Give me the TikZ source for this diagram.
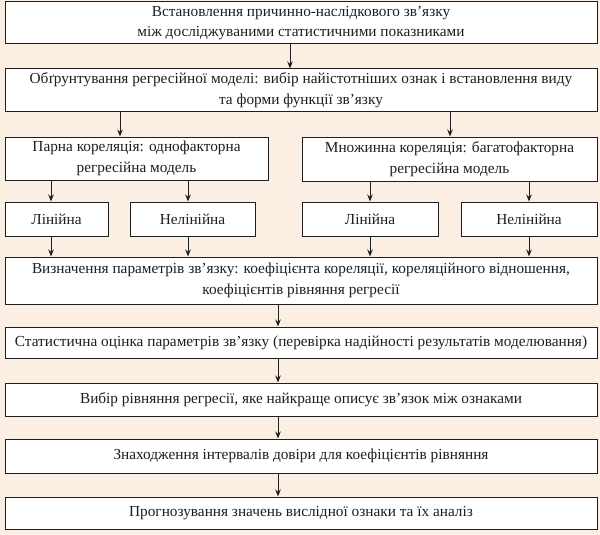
\documentclass[tikz,border=0pt]{standalone}
\usepackage{fontspec}
\setmainfont{Liberation Serif}
\usetikzlibrary{arrows.meta}
\definecolor{bgc}{HTML}{FBEEE2}
\definecolor{ink}{HTML}{1E1E1E}
\begin{document}
\begin{tikzpicture}[x=1pt,y=-1pt,
  box/.style={draw=ink,line width=1pt,fill=white,inner sep=0pt,align=center,
    font=\fontsize{15.3}{20.5}\selectfont,text=ink},
  arr/.style={draw=ink,line width=1pt,-{Stealth[length=7pt,width=5.5pt]}}]
\fill[bgc] (0,0) rectangle (600,535);
\useasboundingbox (0,0) rectangle (600,535);
% boxes
\node[box,minimum width=592pt,minimum height=42pt] (b1) at (301,23)
  {Встановлення причинно-наслідкового зв'язку\\між досліджуваними статистичними показниками};
\node[box,minimum width=592pt,minimum height=42pt] (b2) at (301,90)
  {Обґрунтування регресійної моделі: вибір найістотніших ознак і встановлення виду\\та форми функції зв'язку};
\node[box,minimum width=263pt,minimum height=43pt] (pl) at (136.5,158.5)
  {Парна кореляція: однофакторна\\регресійна модель};
\node[box,minimum width=295pt,minimum height=44pt] (pr) at (449.5,159)
  {Множинна кореляція: багатофакторна\\регресійна модель};
\node[box,minimum width=103pt,minimum height=34pt] (l1) at (56.5,219) {Лінійна};
\node[box,minimum width=125pt,minimum height=34pt] (n1) at (192.5,219) {Нелінійна};
\node[box,minimum width=136pt,minimum height=34pt] (l2) at (370,219) {Лінійна};
\node[box,minimum width=136pt,minimum height=34pt] (n2) at (529,219) {Нелінійна};
\node[box,minimum width=592pt,minimum height=47pt] (v) at (301,280.5)
  {Визначення параметрів зв'язку: коефіцієнта кореляції, кореляційного відношення,\\коефіцієнтів рівняння регресії};
\node[box,minimum width=592pt,minimum height=31pt] (s) at (301,342.5)
  {Статистична оцінка параметрів зв'язку (перевірка надійності результатів моделювання)};
\node[box,minimum width=592pt,minimum height=33pt] (vb) at (301,399.5)
  {Вибір рівняння регресії, яке найкраще описує зв'язок між ознаками};
\node[box,minimum width=592pt,minimum height=34pt] (z) at (301,456)
  {Знаходження інтервалів довіри для коефіцієнтів рівняння};
\node[box,minimum width=592pt,minimum height=32pt] (p) at (301,513)
  {Прогнозування значень вислідної ознаки та їх аналіз};
% x positions for connectors
\coordinate (xa) at (290,0);
\coordinate (xb) at (120,0);
\coordinate (xc) at (450,0);
\coordinate (xd) at (51,0);
\coordinate (xe) at (188,0);
\coordinate (xf) at (370,0);
\coordinate (xg) at (529,0);
\coordinate (xh) at (278,0);
% connectors
\draw[arr] (b1.south -| xa) -- (b2.north -| xa);
\draw[arr] (b2.south -| xb) -- (pl.north -| xb);
\draw[arr] (b2.south -| xc) -- (pr.north -| xc);
\draw[arr] (pl.south -| xd) -- (l1.north -| xd);
\draw[arr] (pl.south -| xe) -- (n1.north -| xe);
\draw[arr] (pr.south -| xf) -- (l2.north -| xf);
\draw[arr] (pr.south -| xg) -- (n2.north -| xg);
\draw[arr] (l1.south -| xd) -- (v.north -| xd);
\draw[arr] (n1.south -| xe) -- (v.north -| xe);
\draw[arr] (l2.south -| xf) -- (v.north -| xf);
\draw[arr] (n2.south -| xg) -- (v.north -| xg);
\draw[arr] (v.south -| xh) -- (s.north -| xh);
\draw[arr] (s.south -| xh) -- (vb.north -| xh);
\draw[arr] (vb.south -| xh) -- (z.north -| xh);
\draw[arr] (z.south -| xh) -- (p.north -| xh);
\end{tikzpicture}
\end{document}
